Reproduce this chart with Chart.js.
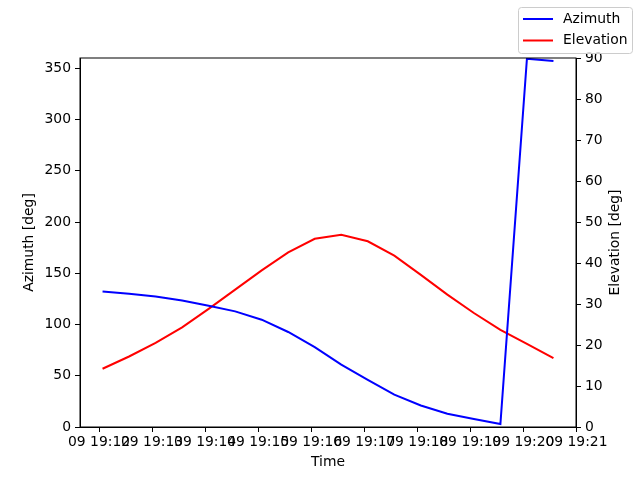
<!DOCTYPE html>
<html lang="en">
<head>
<meta charset="UTF-8">
<title>Azimuth / Elevation</title>
<script src="https://cdn.jsdelivr.net/npm/chart.js"></script>
<style>
    html, body { margin: 0; padding: 0; background: #fff; }
    #wrap { width: 640px; height: 480px; }
</style>
</head>
<body>
<div id="wrap"><canvas id="myChart" width="640" height="480"></canvas></div>
<script>
// seconds of day for each sample (19:12:04 onward, every 30 s)
const times = [
    69124, 69154, 69184, 69214, 69244, 69274, 69304, 69334, 69364,
    69394, 69424, 69454, 69484, 69514, 69544, 69574, 69604, 69634
];
const azimuth = [
    132.2, 130.0, 127.4, 123.5, 118.3, 112.8, 104.7, 92.7, 78.0,
    60.8, 46.0, 31.5, 21.0, 13.0, 7.8, 2.9, 359.3, 357.0
];
const elevation = [
    14.2, 17.2, 20.5, 24.3, 28.8, 33.5, 38.2, 42.6, 45.9,
    46.9, 45.3, 41.8, 37.1, 32.3, 27.8, 23.7, 20.3, 16.8
];
// x tick positions, 19:12 .. 19:21
const timeTicks = [69120, 69180, 69240, 69300, 69360, 69420, 69480, 69540, 69600, 69660];
const azTicks = [0, 50, 100, 150, 200, 250, 300, 350];
const elTicks = [0, 10, 20, 30, 40, 50, 60, 70, 80, 90];
const dayLabel = '09';
const rightTitle = 'Elevation [deg]';

const fontFam = '"DejaVu Sans", sans-serif';
const tickFont = { family: fontFam, size: 13.9 };

function fmtTime(v) {
    let h = Math.floor(v / 3600);
    let m = Math.round((v - h * 3600) / 60);
    return dayLabel + ' ' + h + ':' + String(m).padStart(2, '0');
}

function toPoints(ys) {
    return times.map(function (t, i) { return { x: t, y: ys[i] }; });
}

function fixTicks(list) {
    return function (s) { s.ticks = list.map(function (v) { return { value: v }; }); };
}

const margin = (times[times.length - 1] - times[0]) * 0.05;

// frame, right title and legend drawn like matplotlib
const extras = {
    id: 'extras',
    afterDraw: function (chart) {
        const ctx = chart.ctx;
        const a = chart.chartArea;
        ctx.save();
        ctx.strokeStyle = '#000';
        ctx.lineWidth = 1;
        ctx.strokeRect(a.left, a.top, a.right - a.left, a.bottom - a.top);

        ctx.font = '13.9px ' + fontFam;
        ctx.fillStyle = '#000';
        ctx.textAlign = 'center';
        ctx.textBaseline = 'middle';
        ctx.save();
        ctx.translate(615, (a.top + a.bottom) / 2);
        ctx.rotate(-Math.PI / 2);
        ctx.fillText(rightTitle, 0, 0);
        ctx.restore();

        // legend box
        const bx = 518.5, by = 7.5, bw = 114, bh = 46;
        ctx.fillStyle = 'rgba(255,255,255,0.8)';
        ctx.strokeStyle = '#cccccc';
        ctx.lineWidth = 1;
        ctx.beginPath();
        ctx.roundRect(bx, by, bw, bh, 3);
        ctx.fill();
        ctx.stroke();

        ctx.textAlign = 'left';
        chart.data.datasets.forEach(function (ds, i) {
            const y = 19 + i * 21.5;
            ctx.strokeStyle = ds.borderColor;
            ctx.lineWidth = 2;
            ctx.beginPath();
            ctx.moveTo(523, y);
            ctx.lineTo(553, y);
            ctx.stroke();
            ctx.fillStyle = '#000';
            ctx.fillText(ds.label, 563, y);
        });
        ctx.restore();
    }
};

new Chart(document.getElementById('myChart'), {
    type: 'line',
    data: {
        datasets: [{
            label: 'Azimuth',
            data: toPoints(azimuth),
            borderColor: 'rgb(0,0,255)',
            borderWidth: 2,
            pointRadius: 0,
            tension: 0,
            yAxisID: 'y'
        }, {
            label: 'Elevation',
            data: toPoints(elevation),
            borderColor: 'rgb(255,0,0)',
            borderWidth: 2,
            pointRadius: 0,
            tension: 0,
            yAxisID: 'y2'
        }]
    },
    options: {
        responsive: false,
        animation: false,
        layout: { padding: { left: 17, right: 12.5, top: 58, bottom: 5.5 } },
        plugins: { legend: { display: false }, tooltip: { enabled: false } },
        scales: {
            x: {
                type: 'linear',
                min: times[0] - margin,
                max: times[times.length - 1] + margin,
                afterBuildTicks: fixTicks(timeTicks),
                afterFit: function (s) { s.height = 47.5; },
                grid: { display: true, drawOnChartArea: false, drawTicks: true, tickLength: 5, color: '#000' },
                border: { display: true, color: '#000' },
                ticks: {
                    autoSkip: false, maxRotation: 0, minRotation: 0, padding: 2,
                    color: '#000', font: tickFont,
                    callback: function (v) { return fmtTime(v); }
                },
                title: { display: true, text: 'Time', color: '#000', font: tickFont, padding: { top: 2, bottom: 4 } }
            },
            y: {
                position: 'left',
                min: 0, max: 360,
                afterBuildTicks: fixTicks(azTicks),
                afterFit: function (s) { s.width = 63; },
                grid: { display: true, drawOnChartArea: false, drawTicks: true, tickLength: 5, color: '#000' },
                border: { display: true, color: '#000' },
                ticks: { color: '#000', font: tickFont, padding: 4 },
                title: { display: true, text: 'Azimuth [deg]', color: '#000', font: tickFont }
            },
            y2: {
                position: 'right',
                min: 0, max: 90,
                afterBuildTicks: fixTicks(elTicks),
                afterFit: function (s) { s.width = 51.5; },
                grid: { display: true, drawOnChartArea: false, drawTicks: true, tickLength: 5, color: '#000' },
                border: { display: true, color: '#000' },
                ticks: { color: '#000', font: tickFont, padding: 4 },
                title: { display: false }
            }
        }
    },
    plugins: [extras]
});
</script>
</body>
</html>
